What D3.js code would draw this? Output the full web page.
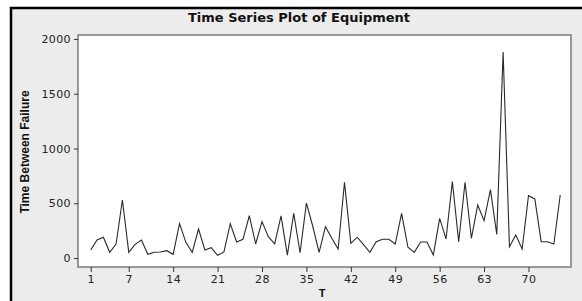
<!DOCTYPE html>
<html>
<head>
<meta charset="utf-8">
<script src="https://cdn.jsdelivr.net/npm/d3@7"></script>
<style>
	body { margin: 0; background: #fff; }
	svg text { font-family: 'DejaVu Sans', Tahoma, sans-serif; }
</style>
</head>
<body>
<div id="chart"></div>
<script>
const TITLE = 'Time Series Plot of Equipment';
const Y_LABEL = 'Time Between Failure';
const X_LABEL = 'T';

const xTicks = [1, 7, 14, 21, 28, 35, 42, 49, 56, 63, 70];
const yTicks = [0, 500, 1000, 1500, 2000];

// time between failures, in order of observation (T = 1..75)
const failures = [
	73, 164, 189, 52, 128, 530, 52, 125, 164, 34,
	52, 55, 67, 34, 315, 143, 52, 265, 73, 94,
	25, 55, 313, 146, 171, 386, 128, 332, 195, 130,
	384, 27, 408, 48, 502, 290, 52, 286, 180, 82,
	691, 134, 190, 122, 52, 149, 171, 171, 128, 408,
	98, 52, 146, 146, 27, 362, 174, 697, 149, 691,
	180, 484, 341, 625, 216, 1880, 103, 210, 82, 569,
	539, 149, 149, 128, 575
];

const W = 582;
const H = 301;
const box = { left: 78, right: 571, top: 35, bottom: 267 };

const points = failures.map((v, i) => ({ t: i + 1, v: v }));

const svg = d3.select('#chart')
	.append('svg')
	.attr('width', W)
	.attr('height', H);

// outer panel
svg.append('rect')
	.attr('x', 11).attr('y', 8)
	.attr('width', W - 11).attr('height', H - 8)
	.attr('fill', '#ececec');
svg.append('path')
	.attr('d', `M11,${H}V8H${W}`)
	.attr('fill', 'none')
	.attr('stroke', '#000')
	.attr('stroke-width', 2.5);

const x = d3.scaleLinear()
	.domain([-1, 76.7])
	.range([box.left, box.right]);

const y = d3.scaleLinear()
	.domain([-82, 2036])
	.range([box.bottom, box.top]);

svg.append('rect')
	.attr('x', box.left).attr('y', box.top)
	.attr('width', box.right - box.left)
	.attr('height', box.bottom - box.top)
	.attr('fill', '#fff')
	.attr('stroke', '#7a7a7a')
	.attr('stroke-width', 1.5);

const xAxis = d3.axisBottom(x)
	.tickValues(xTicks)
	.tickFormat(d3.format('d'))
	.tickSize(5)
	.tickPadding(3);
const yAxis = d3.axisLeft(y)
	.tickValues(yTicks)
	.tickFormat(d3.format('d'))
	.tickSize(4)
	.tickPadding(3);

const gx = svg.append('g')
	.attr('transform', `translate(0,${box.bottom})`)
	.call(xAxis);
const gy = svg.append('g')
	.attr('transform', `translate(${box.left},0)`)
	.call(yAxis);

[gx, gy].forEach((g) => {
	g.select('.domain').remove();
	g.selectAll('line').attr('stroke', '#333');
	g.selectAll('text')
		.attr('fill', '#222')
		.style('font-size', '11px')
		.style('letter-spacing', '0.4px');
});

const line = d3.line()
	.x((d) => x(d.t))
	.y((d) => y(d.v));

svg.append('path')
	.datum(points)
	.attr('d', line)
	.attr('fill', 'none')
	.attr('stroke', '#2a2a2a')
	.attr('stroke-width', 1.1)
	.attr('stroke-linejoin', 'miter');

svg.append('text')
	.attr('x', 299)
	.attr('y', 22)
	.attr('text-anchor', 'middle')
	.style('font-size', '13px')
	.style('font-weight', 'bold')
	.attr('fill', '#111')
	.text(TITLE);

svg.append('text')
	.attr('transform', 'translate(29,152) rotate(-90)')
	.attr('text-anchor', 'middle')
	.style('font-family', "'Liberation Sans Narrow', 'Arial Narrow', sans-serif")
	.style('font-size', '12px')
	.style('font-weight', 'bold')
	.attr('fill', '#111')
	.text(Y_LABEL);

svg.append('text')
	.attr('x', 322)
	.attr('y', 297)
	.attr('text-anchor', 'middle')
	.style('font-family', "'Liberation Sans Narrow', 'Arial Narrow', sans-serif")
	.style('font-size', '11px')
	.style('font-weight', 'bold')
	.attr('fill', '#111')
	.text(X_LABEL);
</script>
</body>
</html>
